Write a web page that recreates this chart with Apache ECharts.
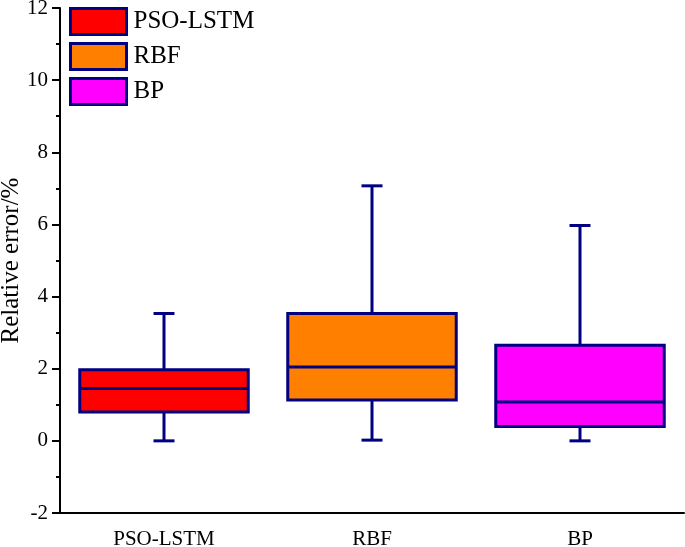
<!DOCTYPE html>
<html><head><meta charset="utf-8">
<script src="https://cdn.jsdelivr.net/npm/echarts@6/dist/echarts.min.js"></script>
<style>html,body{margin:0;padding:0;background:#fff}#c{width:685px;height:547px}</style>
</head><body><div id="c"></div>
<script>
var categories = ['PSO-LSTM', 'RBF', 'BP'];
var mins    = [0.00, 0.02, 0.00];
var q1s     = [0.80, 1.13, 0.40];
var medians = [1.45, 2.05, 1.08];
var q3s     = [1.97, 3.53, 2.65];
var maxs    = [3.53, 7.07, 5.97];
var colors  = ['#FF0000', '#FF8000', '#FF00FF'];
var yTicks  = {min: -2, max: 12, interval: 2};

var BORDER = '#000080';
var FONT = '"Liberation Serif","Times New Roman",serif';

function renderBox(params, api) {
  var x = api.value(0);
  var pMin = api.coord([x, api.value(1)]);
  var pQ1 = api.coord([x, api.value(2)]);
  var pMed = api.coord([x, api.value(3)]);
  var pQ3 = api.coord([x, api.value(4)]);
  var pMax = api.coord([x, api.value(5)]);
  var band = api.size([1, 0])[0];
  var hw = band * 0.81 / 2;
  var cw = 10.5;
  var cx = pMed[0];
  var fill = api.visual('color');
  var ls = {stroke: BORDER, lineWidth: 3};
  return {
    type: 'group',
    children: [
      {type: 'line', shape: {x1: cx, y1: pMax[1], x2: cx, y2: pQ3[1]}, style: ls},
      {type: 'line', shape: {x1: cx, y1: pMin[1], x2: cx, y2: pQ1[1]}, style: ls},
      {type: 'line', shape: {x1: cx - cw, y1: pMax[1], x2: cx + cw, y2: pMax[1]}, style: ls},
      {type: 'line', shape: {x1: cx - cw, y1: pMin[1], x2: cx + cw, y2: pMin[1]}, style: ls},
      {type: 'rect', shape: {x: cx - hw, y: pQ3[1], width: hw * 2, height: pQ1[1] - pQ3[1]},
       style: {fill: fill, stroke: BORDER, lineWidth: 3}},
      {type: 'line', shape: {x1: cx - hw, y1: pMed[1], x2: cx + hw, y2: pMed[1]}, style: ls}
    ]
  };
}

var series = categories.map(function (c, i) {
  return {
    name: c,
    type: 'custom',
    renderItem: renderBox,
    itemStyle: {color: colors[i], borderColor: BORDER, borderWidth: 3},
    encode: {x: 0, y: [1, 2, 3, 4, 5]},
    data: [[i, mins[i], q1s[i], medians[i], q3s[i], maxs[i]]]
  };
});

var chart = echarts.init(document.getElementById('c'));
chart.setOption({
  animation: false,
  backgroundColor: '#fff',
  grid: {left: 60, right: 1, top: 8, bottom: 34, outerBoundsMode: 'none', containLabel: false},
  legend: {
    left: 64, top: 2, orient: 'vertical',
    itemWidth: 56, itemHeight: 26, itemGap: 6,
    icon: 'rect',
    textStyle: {fontFamily: FONT, fontSize: 25, color: '#000', padding: [0, 0, 0, 2]},
    data: categories.map(function (c, i) {
      return {name: c, itemStyle: {color: colors[i], borderColor: BORDER, borderWidth: 3}};
    })
  },
  xAxis: {
    type: 'category',
    data: categories,
    axisLine: {onZero: false, lineStyle: {color: '#000', width: 2}},
    axisTick: {alignWithLabel: true, length: 8, lineStyle: {color: '#000', width: 2}},
    axisLabel: {fontFamily: FONT, fontSize: 21, color: '#000', margin: 16},
    splitLine: {show: false}
  },
  yAxis: {
    type: 'value',
    min: yTicks.min, max: yTicks.max, interval: yTicks.interval,
    name: 'Relative error/%',
    nameLocation: 'middle', nameGap: 36, nameRotate: 90, nameMoveOverlap: false,
    nameTextStyle: {fontFamily: FONT, fontSize: 25, color: '#000'},
    axisLine: {show: true, onZero: false, lineStyle: {color: '#000', width: 2}},
    axisTick: {show: true, length: 8, lineStyle: {color: '#000', width: 2}},
    minorTick: {show: true, splitNumber: 2, length: 4, lineStyle: {color: '#000', width: 2}},
    axisLabel: {fontFamily: FONT, fontSize: 21, color: '#000', margin: 12},
    splitLine: {show: false}
  },
  series: series
});
</script></body></html>
